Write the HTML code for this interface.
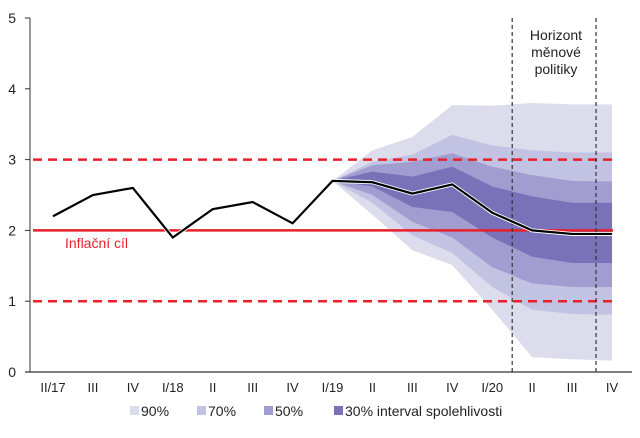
<!DOCTYPE html>
<html><head><meta charset="utf-8"><style>
body{margin:0;background:#fff;}
svg{display:block;font-family:"Liberation Sans",sans-serif;}
</style></head><body>
<svg id="c" width="640" height="438"></svg>
<script>
const categories=["II/17","III","IV","I/18","II","III","IV","I/19","II","III","IV","I/20","II","III","IV"];
const actual=[2.2,2.5,2.6,1.9,2.3,2.4,2.1,2.7,2.68,2.52,2.65,2.25,2.0,1.95,1.95];
const fanStart=7;
const up90=[2.7,3.13,3.32,3.77,3.76,3.8,3.78,3.78];
const lo90=[2.7,2.22,1.72,1.51,0.88,0.21,0.18,0.16];
const up70=[2.7,2.97,3.07,3.35,3.2,3.13,3.1,3.1];
const lo70=[2.7,2.39,1.93,1.68,1.2,0.88,0.82,0.81];
const up50=[2.7,2.92,2.97,3.09,2.9,2.78,2.7,2.69];
const lo50=[2.7,2.5,2.12,1.9,1.48,1.25,1.2,1.2];
const up30=[2.7,2.83,2.76,2.9,2.62,2.48,2.39,2.39];
const lo30=[2.7,2.62,2.33,2.26,1.9,1.63,1.54,1.54];
const yTicks=[0,1,2,3,4,5];
const target=2, bandLo=1, bandHi=3;
const horizonBounds=[11.5,13.6];

const svg=document.getElementById('c');
const NS='http://www.w3.org/2000/svg';
const x=i=>53+i*39.93;
const y=v=>372-v*70.8;
function el(t,a,p){const e=document.createElementNS(NS,t);for(const k in a)e.setAttribute(k,a[k]);(p||svg).appendChild(e);return e;}

function band(up,lo,col,name){
  let pts=[];
  up.forEach((v,j)=>pts.push(x(fanStart+j)+','+y(v)));
  for(let j=lo.length-1;j>=0;j--)pts.push(x(fanStart+j)+','+y(lo[j]));
  const p=el('polygon',{points:pts.join(' '),fill:col});
  
  
}
band(up90,lo90,'#dcdcec','band-90');
band(up70,lo70,'#c2c2e2','band-70');
band(up50,lo50,'#a19dd0','band-50');
band(up30,lo30,'#7a72b8','band-30');

const x0=33,x1=x(14)+1;
[[bandHi,'upper-tolerance-line'],[bandLo,'lower-tolerance-line']].forEach(([v,n])=>{
  const l=el('line',{x1:x0,x2:x1,y1:y(v),y2:y(v),stroke:'#e8202a','stroke-width':2.5,'stroke-dasharray':'9,6'});
  
});
const tl=el('line',{x1:x0,x2:x1,y1:y(target),y2:y(target),stroke:'#e8202a','stroke-width':2.5});


horizonBounds.forEach((b,k)=>{
  const l=el('line',{x1:x(b),x2:x(b),y1:18,y2:372,stroke:'#333','stroke-width':1.2,'stroke-dasharray':'4,3'});
  
});

const halo=el('polyline',{points:actual.map((v,i)=>x(i)+','+y(v)).join(' '),fill:'none',stroke:'#fff','stroke-width':4});

const ln=el('polyline',{points:actual.map((v,i)=>x(i)+','+y(v)).join(' '),fill:'none',stroke:'#000','stroke-width':2.2});


// axes
const ya=el('line',{x1:30,x2:30,y1:18,y2:372,stroke:'#333','stroke-width':1});

const xa=el('line',{x1:25,x2:632,y1:372,y2:372,stroke:'#333','stroke-width':1.2});

yTicks.forEach(v=>{
  const t=el('line',{x1:25,x2:30,y1:y(v),y2:y(v),stroke:'#333'});
  
  const tx=el('text',{x:16,y:y(v)+5,'font-size':14,'text-anchor':'end',fill:'#222'});
  tx.textContent=v;
  
});
categories.forEach((c,i)=>{
  const tx=el('text',{x:x(i),y:392,'font-size':13,'text-anchor':'middle',fill:'#222'});
  tx.textContent=c;
  
});

const it=el('text',{x:65,y:248,'font-size':14,fill:'#e8202a'});
it.textContent='Inflační cíl';


['Horizont','měnové','politiky'].forEach((s,k)=>{
  const t=el('text',{x:556,y:40+k*17,'font-size':14,'text-anchor':'middle',fill:'#222'});
  t.textContent=s;
  
});

const leg=[['90%','#dcdcec',130],['70%','#c2c2e2',197],['50%','#a19dd0',264],['30% interval spolehlivosti','#7a72b8',334]];
leg.forEach(([s,c,lx])=>{
  const r=el('rect',{x:lx,y:406,width:9,height:9,fill:c});
  
  const t=el('text',{x:lx+11,y:416,'font-size':14,fill:'#222'});
  t.textContent=s;
  
});
</script>
</body></html>
